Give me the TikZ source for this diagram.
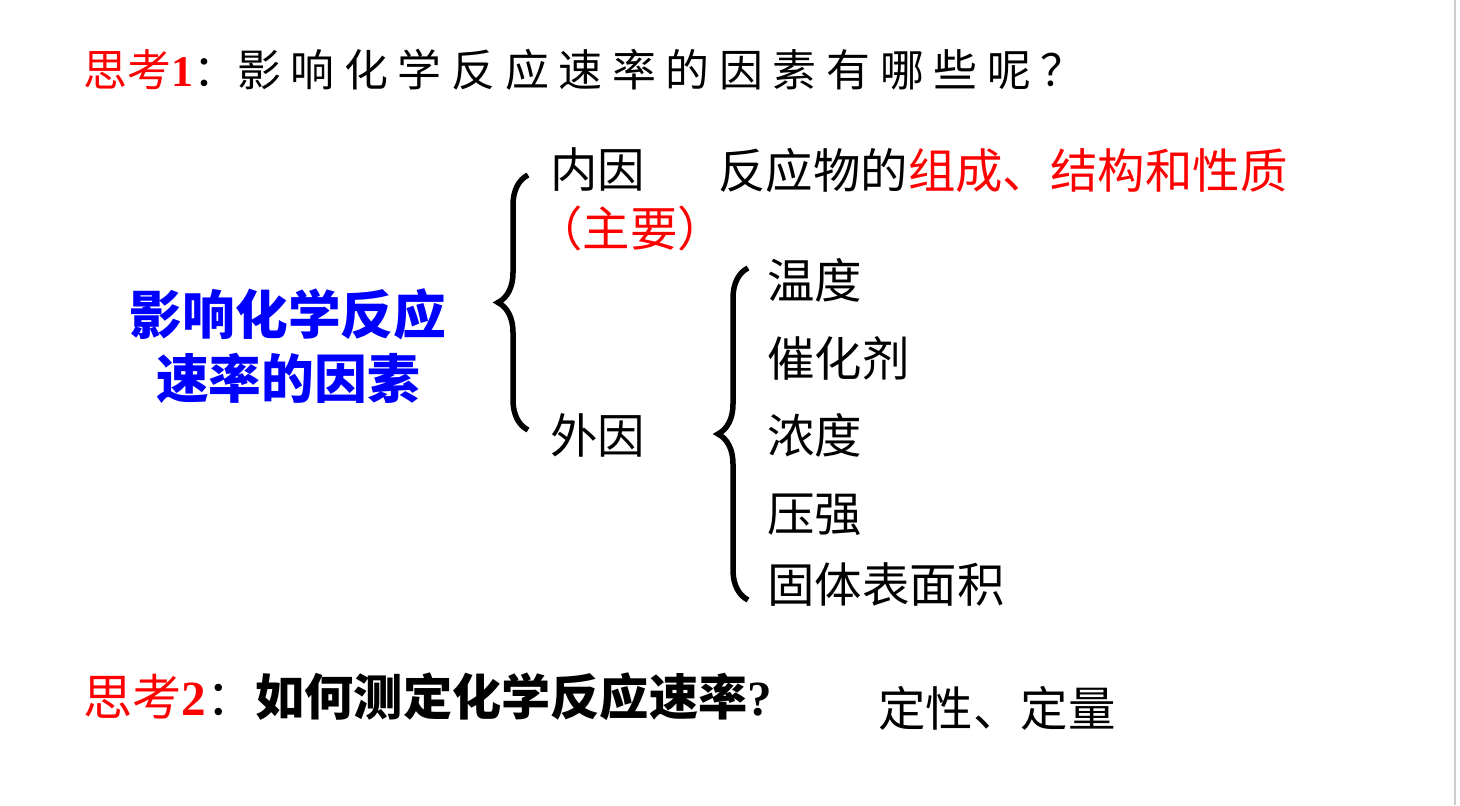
\documentclass[tikz,border=0pt]{standalone}
\usepackage{fontspec}
\newfontfamily\cjk{Noto Sans CJK SC}
\newfontfamily\cjkw[LetterSpace=22]{Noto Sans CJK SC}
\newfontfamily\lat{Liberation Serif}
\usetikzlibrary{decorations.pathreplacing}
\begin{document}
\begin{tikzpicture}[x=0.02cm,y=-0.02cm,
  t/.style={inner sep=0pt,font=\fontsize{27pt}{30pt}\cjk,anchor=west},
  bigbr/.style={line width=0.11cm,decorate,decoration={brace,amplitude=0.6cm}}]
\useasboundingbox[fill=white] (0,0) rectangle (1460,805);
\draw[gray!40,line width=1pt] (1455,0) -- (1455,805);
\node[t,font=\fontsize{25pt}{28pt}\cjk] (q1) at (83,70) {\textcolor{red}{思考\lat\bfseries 1}：{\cjkw 影响化学反应速率的因素有哪些呢？}};
\node[inner sep=0pt,align=center,text=blue,font=\fontsize{30pt}{36pt}\cjk\bfseries] (main) at (288,346) {影响化学反应\\速率的因素};
\coordinate (b1t) at (528,175); \coordinate (b1b) at (528,430);
\draw[bigbr] (b1b) -- (b1t);
\node[t] (nei) at (550,170) {内因};
\node[t,text=red] (zy) at (535,228) {（主要）};
\node[t] (neir) at (718,170) {反应物的\textcolor{red}{组成、结构和性质}};
\node[t] (wai) at (550,435) {外因};
\coordinate (b2t) at (748,268); \coordinate (b2b) at (748,600);
\draw[bigbr] (b2b) -- (b2t);
\node[t] (i1) at (767,280) {温度};
\node[t] (i2) at (767,358) {催化剂};
\node[t] (i3) at (767,435) {浓度};
\node[t] (i4) at (767,515) {压强};
\node[t] (i5) at (767,585) {固体表面积};
\node[t,font=\fontsize{28pt}{30pt}\cjk] (q2) at (83,697) {\textcolor{red}{思考\lat\bfseries 2}：\textbf{如何测定化学反应速率{\lat ?}}};
\node[t] (dx) at (878,708) {定性、定量};
\end{tikzpicture}
\end{document}
